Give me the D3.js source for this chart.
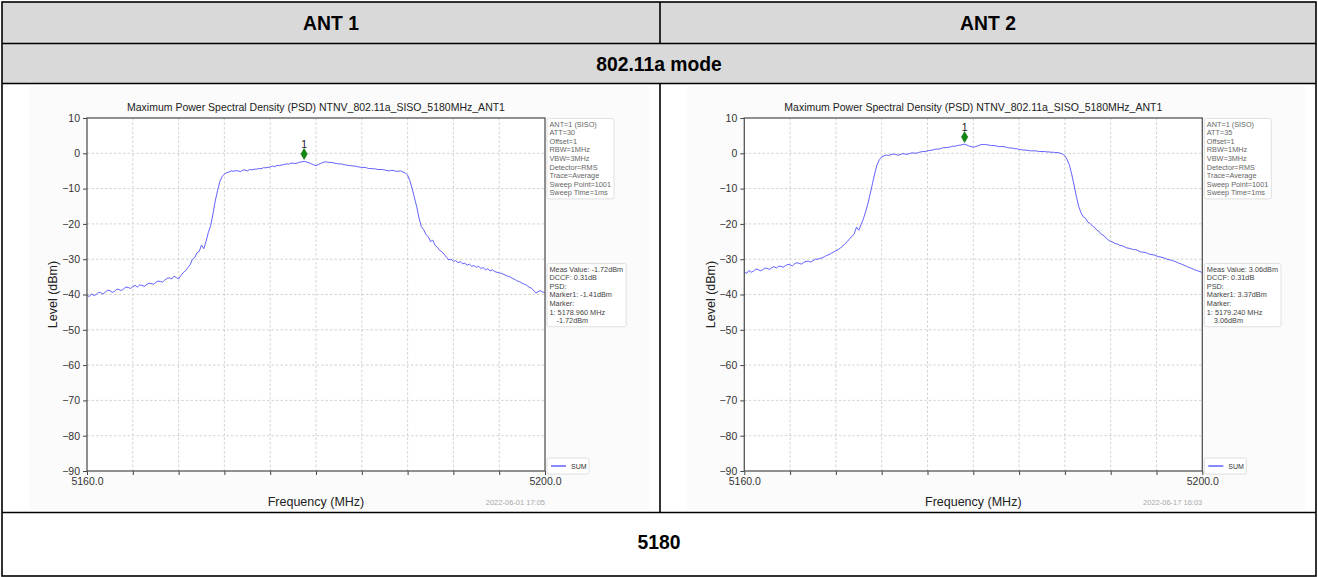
<!DOCTYPE html>
<html><head><meta charset="utf-8">
<script src="https://cdn.jsdelivr.net/npm/d3@7"></script>
<style>body{margin:0;background:#fff;} svg{display:block;font-family:"Liberation Sans",Arial,sans-serif;}</style>
</head><body><svg id="c" width="1318" height="577"></svg>
<script>
const headers = ["ANT 1", "ANT 2"];
const modeLabel = "802.11a mode";
const channelLabel = "5180";
const chartTitles = ["Maximum Power Spectral Density (PSD) NTNV_802.11a_SISO_5180MHz_ANT1",
                     "Maximum Power Spectral Density (PSD) NTNV_802.11a_SISO_5180MHz_ANT1"];
const sweepStart = 5160, sweepStep = 0.2;
const ant1Level = [
  -40.2,-40.6,-39.8,-40.3,-40.0,-39.4,-39.5,-39.9,-39.3,-38.8,
  -38.9,-39.4,-39.1,-38.5,-38.6,-38.9,-38.4,-37.9,-38.0,-38.3,
  -37.8,-37.4,-37.9,-37.3,-37.4,-37.7,-37.2,-36.8,-36.9,-37.1,
  -36.6,-36.2,-36.3,-36.5,-35.9,-35.4,-35.3,-35.6,-34.8,-35.2,
  -35.6,-34.6,-33.8,-33.3,-32.4,-31.6,-30.1,-29.6,-28.2,-27.8,
  -26.0,-27.0,-24.9,-22.4,-20.5,-17.2,-13.5,-10.6,-8.0,-6.6,
  -5.9,-5.5,-5.3,-5.0,-5.1,-4.9,-5.0,-5.2,-4.8,-4.7,
  -5.0,-4.6,-4.7,-4.5,-4.5,-4.3,-4.4,-4.1,-4.1,-4.0,
  -3.9,-3.6,-3.8,-3.4,-3.5,-3.3,-3.2,-3.0,-3.1,-2.8,
  -2.8,-2.9,-2.7,-2.5,-2.4,-2.3,-2.5,-2.7,-3.0,-3.3,
  -3.5,-3.2,-2.9,-2.6,-2.4,-2.5,-2.6,-2.6,-2.8,-2.9,
  -3.0,-3.0,-3.2,-3.3,-3.4,-3.5,-3.6,-3.6,-3.8,-3.9,
  -4.0,-4.0,-4.1,-4.3,-4.3,-4.4,-4.4,-4.6,-4.6,-4.6,
  -4.7,-4.9,-5.0,-4.8,-4.9,-5.1,-5.1,-5.0,-5.3,-5.6,
  -6.2,-7.8,-10.0,-12.6,-15.2,-18.4,-20.8,-21.6,-23.0,-23.6,
  -25.0,-24.6,-26.1,-26.6,-27.5,-27.9,-28.6,-29.5,-30.2,-30.0,
  -30.6,-30.4,-31.0,-30.7,-31.3,-31.1,-31.7,-31.4,-32.0,-31.8,
  -32.3,-32.0,-32.6,-32.4,-33.0,-32.7,-33.3,-33.0,-33.5,-33.7,
  -33.9,-34.0,-34.3,-34.6,-34.9,-35.1,-35.5,-35.8,-36.2,-36.4,
  -36.8,-37.1,-37.4,-37.9,-38.2,-38.8,-39.6,-39.2,-38.9,-39.3,
  -39.5];
const ant2Level = [
  -33.6,-34.0,-33.2,-33.7,-33.4,-32.8,-32.9,-33.3,-33.0,-32.5,
  -32.6,-32.9,-32.4,-32.1,-32.5,-32.0,-32.0,-32.3,-31.8,-31.5,
  -31.6,-31.9,-31.3,-31.0,-31.2,-31.4,-30.9,-30.6,-30.6,-30.8,
  -30.4,-30.0,-30.0,-29.8,-29.6,-29.3,-28.9,-28.7,-28.3,-28.0,
  -27.6,-27.3,-26.8,-26.3,-25.6,-25.0,-24.2,-23.6,-22.8,-20.9,
  -21.8,-20.2,-18.6,-16.5,-14.2,-11.4,-8.5,-5.6,-3.2,-1.8,
  -1.0,-0.7,-0.5,-0.6,-0.4,-0.2,-0.3,-0.5,-0.4,-0.1,
  -0.2,-0.3,-0.1,0.1,0.1,0.0,0.2,0.4,0.5,0.5,
  0.7,0.8,0.9,1.1,1.2,1.2,1.4,1.6,1.6,1.7,
  1.8,2.0,2.0,2.2,2.3,2.4,2.6,2.4,2.1,1.9,
  1.7,1.9,2.1,2.4,2.5,2.5,2.4,2.3,2.2,2.2,
  2.1,1.9,1.9,1.9,1.8,1.6,1.5,1.5,1.3,1.3,
  1.1,1.0,0.9,0.9,0.8,0.7,0.7,0.7,0.6,0.5,
  0.5,0.5,0.4,0.4,0.3,0.3,0.2,0.2,0.0,-0.2,
  -0.8,-1.8,-3.4,-6.0,-9.0,-12.2,-15.0,-16.8,-18.0,-18.4,
  -19.5,-19.9,-20.6,-21.0,-21.8,-22.2,-23.0,-23.3,-24.0,-24.6,
  -25.0,-25.2,-25.6,-25.7,-26.1,-26.2,-26.5,-26.8,-26.9,-27.1,
  -27.3,-27.3,-27.6,-27.9,-28.0,-28.1,-28.3,-28.6,-28.7,-28.8,
  -29.1,-29.3,-29.4,-29.6,-29.8,-30.1,-30.2,-30.4,-30.6,-30.9,
  -31.2,-31.4,-31.7,-32.0,-32.3,-32.5,-32.8,-33.1,-33.3,-33.5,
  -33.8];
const xTicks = [5160,5164,5168,5172,5176,5180,5184,5188,5192,5196,5200];
const xTickLabels = {5160: "5160.0", 5200: "5200.0"};
const yTicks = [10,0,-10,-20,-30,-40,-50,-60,-70,-80,-90];
const yTickLabels = ["10","0","\u221210","\u221220","\u221230","\u221240","\u221250","\u221260","\u221270","\u221280","\u221290"];
const settings = [
  ["ANT=1 (SISO)","ATT=30","Offset=1","RBW=1MHz","VBW=3MHz","Detector=RMS","Trace=Average","Sweep Point=1001","Sweep Time=1ms"],
  ["ANT=1 (SISO)","ATT=35","Offset=1","RBW=1MHz","VBW=3MHz","Detector=RMS","Trace=Average","Sweep Point=1001","Sweep Time=1ms"]];
const measures = [
  ["Meas Value: -1.72dBm","DCCF: 0.31dB","PSD:","Marker1: -1.41dBm","Marker:","1: 5178.960 MHz","   -1.72dBm"],
  ["Meas Value: 3.06dBm","DCCF: 0.31dB","PSD:","Marker1: 3.37dBm","Marker:","1: 5179.240 MHz","   3.06dBm"]];
const markerFreq = [5178.96, 5179.24];
const markerLevel = [-0.2, 4.6];
const legendLabel = "SUM";
const dates = ["2022-06-01 17:05", "2022-06-17 16:03"];
const series = [ant1Level, ant2Level];

const svg = d3.select("#c");
const xL = 2, xR = 1316, yT = 2, yB = 576, xMid = 660;
const r1 = 43.5, r2 = 83.5, r3 = 512.5;

svg.append("rect").attr("x", xL).attr("y", yT).attr("width", xR - xL).attr("height", r2 - yT).attr("fill", "#d9d9d9");
[0, 1].forEach(i => {
  svg.append("rect").attr("x", 29 + i * 657).attr("y", 86).attr("width", 620).attr("height", 424).attr("fill", "#fbfbfb");
});

function drawPanel(i) {
  const off = i * 657.3;
  const x = d3.scaleLinear().domain([5160, 5200]).range([87 + off, 545 + off]);
  const y = d3.scaleLinear().domain([-90, 10]).range([471, 118]);
  const g = svg.append("g");
  g.append("rect").attr("x", x(5160)).attr("y", y(10)).attr("width", x(5200) - x(5160)).attr("height", y(-90) - y(10)).attr("fill", "#fff");
  g.append("g").selectAll("line").data(xTicks.slice(1, -1)).join("line")
    .attr("x1", d => x(d)).attr("x2", d => x(d)).attr("y1", y(10)).attr("y2", y(-90))
    .attr("stroke", "#c8c8c8").attr("stroke-width", 0.8).attr("stroke-dasharray", "2.5,2");
  g.append("g").selectAll("line").data(yTicks.slice(1, -1)).join("line")
    .attr("y1", d => y(d)).attr("y2", d => y(d)).attr("x1", x(5160)).attr("x2", x(5200))
    .attr("stroke", "#c8c8c8").attr("stroke-width", 0.8).attr("stroke-dasharray", "2.5,2");
  const ax = g.append("g").attr("transform", `translate(0,${y(-90)})`)
    .call(d3.axisBottom(x).tickValues(xTicks).tickSize(4).tickPadding(3).tickFormat(d => xTickLabels[d] || ""));
  const ay = g.append("g").attr("transform", `translate(${x(5160)},0)`)
    .call(d3.axisLeft(y).tickValues(yTicks).tickSize(4).tickPadding(3).tickFormat((d, k) => yTickLabels[k]));
  [ax, ay].forEach(a => {
    a.select(".domain").remove();
    a.selectAll("line").attr("stroke", "#444").attr("stroke-width", 1);
    a.selectAll("text").attr("fill", "#333").style("font-size", "10.5px").style("font-family", "'Liberation Sans',Arial,sans-serif");
  });
  const cid = "clip" + i;
  g.append("clipPath").attr("id", cid).append("rect")
    .attr("x", x(5160)).attr("y", y(10)).attr("width", x(5200) - x(5160)).attr("height", y(-90) - y(10));
  const line = d3.line().x((d, k) => x(sweepStart + k * sweepStep)).y(d => y(d));
  g.append("path").datum(series[i]).attr("clip-path", `url(#${cid})`).attr("d", line)
    .attr("fill", "none").attr("stroke", "#3b3bff").attr("stroke-opacity", 0.8).attr("stroke-width", 1);
  g.append("rect").attr("x", x(5160)).attr("y", y(10)).attr("width", x(5200) - x(5160)).attr("height", y(-90) - y(10))
    .attr("fill", "none").attr("stroke", "#555").attr("stroke-width", 1.3);
  const mx = x(markerFreq[i]), my = y(markerLevel[i]);
  g.append("path").attr("d", d3.symbol(d3.symbolDiamond, 34)()).attr("transform", `translate(${mx},${my})`).attr("fill", "#118811").attr("stroke", "#0a6a0a").attr("stroke-width", 0.6);
  g.append("text").attr("x", mx).attr("y", my - 6).attr("text-anchor", "middle").attr("font-size", 10.5).attr("fill", "#222").text("1");
  g.append("text").attr("x", (x(5160) + x(5200)) / 2).attr("y", 111).attr("text-anchor", "middle").attr("font-size", 10.5).attr("fill", "#222").text(chartTitles[i]);
  g.append("text").attr("x", (x(5160) + x(5200)) / 2).attr("y", 506).attr("text-anchor", "middle").attr("font-size", 12.5).attr("fill", "#222").text("Frequency (MHz)");
  g.append("text").attr("transform", `translate(${53 + off},${(y(10) + y(-90)) / 2}) rotate(-90)`).attr("text-anchor", "middle").attr("dy", "0.35em").attr("font-size", 12.5).attr("fill", "#222").text("Level (dBm)");
  g.append("text").attr("x", x(5200)).attr("y", 505).attr("text-anchor", "end").attr("font-size", 7.5).attr("fill", "#aaa").text(dates[i]);
  function infoBox(lines, top, color) {
    const bg = g.append("rect").attr("x", x(5200) + 2).attr("y", top).attr("rx", 2).attr("fill", "#fff").attr("stroke", "#d8d8d8").attr("stroke-width", 0.8);
    const tg = g.append("g");
    lines.forEach((s, k) => {
      const indent = s.startsWith("   ");
      tg.append("text").attr("x", x(5200) + 4.5 + (indent ? 7 : 0)).attr("y", top + 8 + k * 8.6)
        .attr("font-size", 7.3).attr("fill", color).text(s.trim());
    });
    const bb = tg.node().getBBox();
    bg.attr("width", bb.x + bb.width - (x(5200) + 2) + 3).attr("height", lines.length * 8.6 + 3);
  }
  infoBox(settings[i], 118.5, "#666");
  infoBox(measures[i], 263.5, "#444");
  const lx = x(5200) + 2, ly = 458;
  g.append("rect").attr("x", lx).attr("y", ly).attr("width", 42).attr("height", 16).attr("rx", 2).attr("fill", "#fff").attr("stroke", "#d8d8d8").attr("stroke-width", 0.8);
  g.append("line").attr("x1", lx + 4).attr("x2", lx + 19).attr("y1", ly + 8).attr("y2", ly + 8).attr("stroke", "#3b3bff").attr("stroke-width", 1.2);
  g.append("text").attr("x", lx + 24).attr("y", ly + 10.5).attr("font-size", 7).attr("fill", "#333").text(legendLabel);
}
drawPanel(0);
drawPanel(1);

const tl = svg.append("g").attr("stroke", "#000").attr("stroke-width", 1.6);
tl.append("rect").attr("x", xL).attr("y", yT).attr("width", xR - xL).attr("height", yB - yT).attr("fill", "none");
[r1, r2, r3].forEach(yy => tl.append("line").attr("x1", xL).attr("x2", xR).attr("y1", yy).attr("y2", yy));
tl.append("line").attr("x1", xMid).attr("x2", xMid).attr("y1", yT).attr("y2", r1);
tl.append("line").attr("x1", xMid).attr("x2", xMid).attr("y1", r2).attr("y2", r3);

function cellText(txt, cx, base) {
  svg.append("text").attr("transform", `translate(${cx},${base}) scale(0.92,1)`)
    .attr("text-anchor", "middle").attr("font-weight", "bold").attr("font-size", 21).attr("fill", "#000").text(txt);
}
cellText(headers[0], (xL + xMid) / 2, 30);
cellText(headers[1], (xMid + xR) / 2, 30);
cellText(modeLabel, (xL + xR) / 2, 71);
cellText(channelLabel, (xL + xR) / 2, 549);
</script></body></html>
